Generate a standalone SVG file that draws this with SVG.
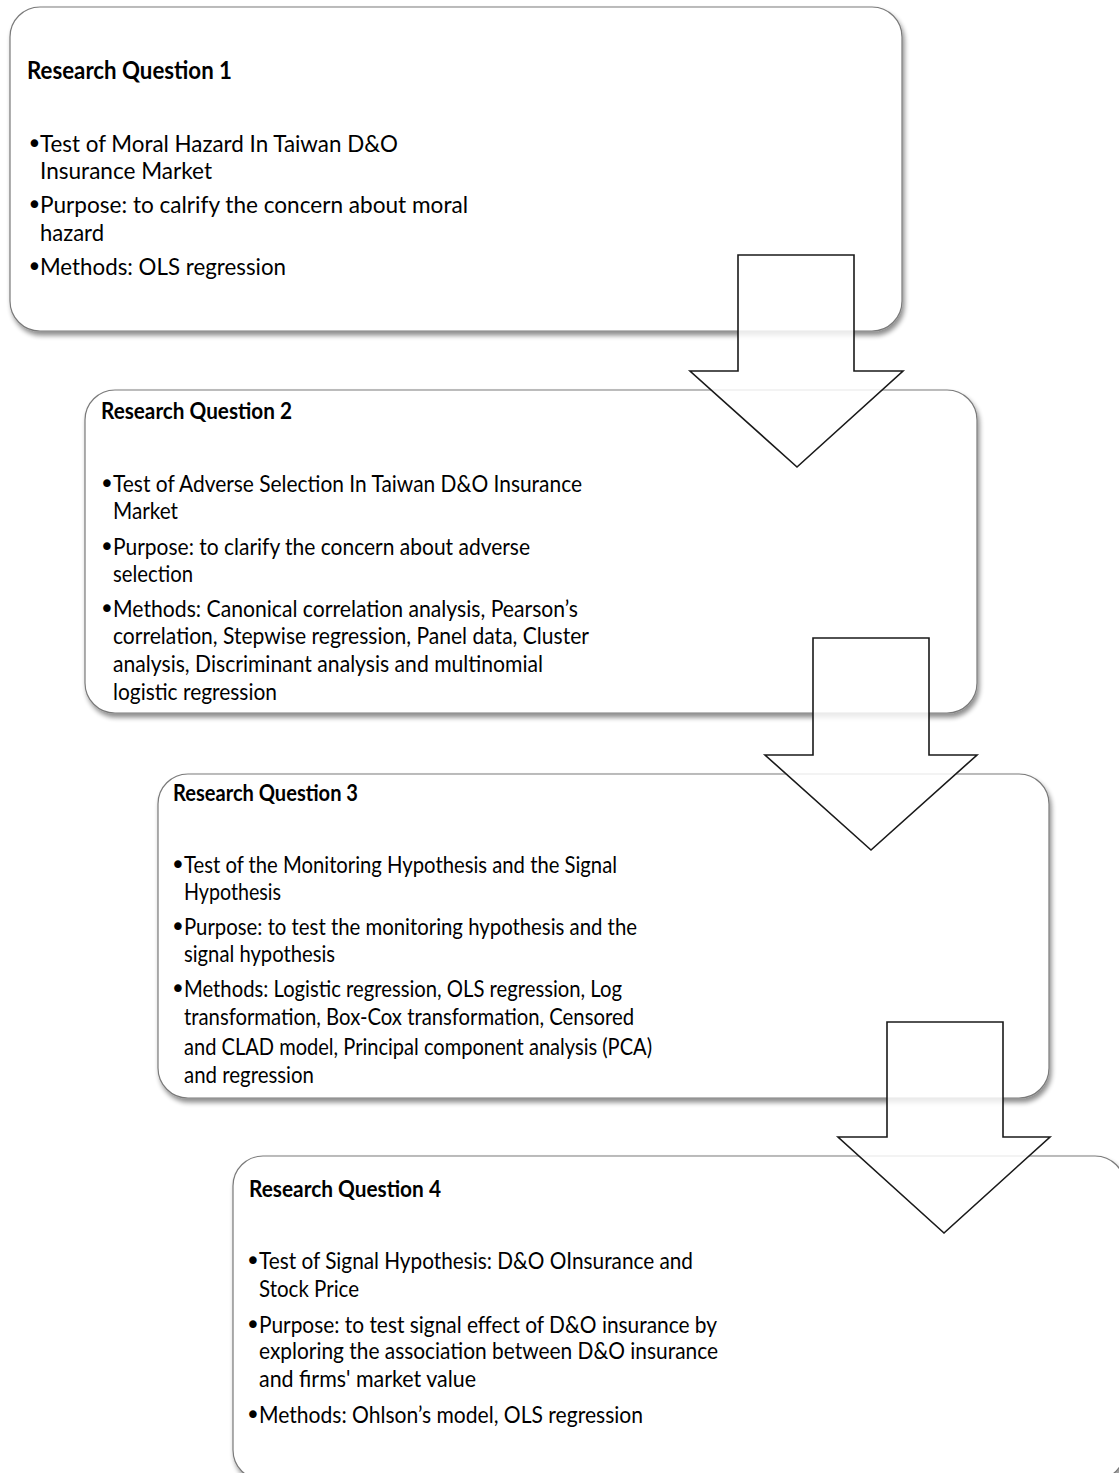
<svg xmlns="http://www.w3.org/2000/svg" width="1119" height="1473" viewBox="0 0 1119 1473">
  <defs>
    <filter id="shadow" x="-5%" y="-5%" width="112%" height="115%">
      <feGaussianBlur in="SourceAlpha" stdDeviation="2.5"/>
      <feOffset dx="2" dy="4" result="blur"/>
      <feComponentTransfer><feFuncA type="linear" slope="0.45"/></feComponentTransfer>
      <feMerge><feMergeNode/><feMergeNode in="SourceGraphic"/></feMerge>
    </filter>
  </defs>
  <style>
    .box { fill: #ffffff; stroke: #7a7a7a; stroke-width: 1.2; filter: url(#shadow); }
    .title { font-family: Lato, "Liberation Sans", sans-serif; font-weight: bold; fill: #000; }
    .body { font-family: Lato, "Liberation Sans", sans-serif; fill: #000; }
    .bul { font-family: "DejaVu Sans", "Liberation Sans", sans-serif; font-size: 26px; fill: #000; text-anchor: middle; }
    .arrow { fill: #ffffff; fill-opacity: 0.82; stroke: #1a1a1a; stroke-width: 1.6; stroke-linejoin: miter; }
    .s24 { font-size: 24px; }
    .s22 { font-size: 22.5px; }
  </style>

  <g id="rq1">
    <rect class="box" x="10" y="7" width="892" height="324" rx="30" ry="30"/>
    <text class="title s24" x="27" y="79" textLength="205" lengthAdjust="spacingAndGlyphs">Research Question 1</text>
    <text class="bul" x="34.5" y="153">•</text>
    <text class="body s24" x="40" y="152" textLength="358" lengthAdjust="spacingAndGlyphs">Test of Moral Hazard In Taiwan D&amp;O</text>
    <text class="body s24" x="40" y="179" textLength="172" lengthAdjust="spacingAndGlyphs">Insurance Market</text>
    <text class="bul" x="34.5" y="214">•</text>
    <text class="body s24" x="40" y="213" textLength="428" lengthAdjust="spacingAndGlyphs">Purpose: to calrify the concern about moral</text>
    <text class="body s24" x="40" y="241" textLength="64" lengthAdjust="spacingAndGlyphs">hazard</text>
    <text class="bul" x="34.5" y="276">•</text>
    <text class="body s24" x="40" y="275" textLength="246" lengthAdjust="spacingAndGlyphs">Methods: OLS regression</text>
  </g>

  <g id="rq2">
    <rect class="box" x="85" y="390" width="892" height="323" rx="30" ry="30"/>
    <text class="title s22" x="101" y="419" textLength="191" lengthAdjust="spacingAndGlyphs">Research Question 2</text>
    <text class="bul" x="107" y="493">•</text>
    <text class="body s22" x="113" y="492" textLength="469" lengthAdjust="spacingAndGlyphs">Test of Adverse Selection In Taiwan D&amp;O Insurance</text>
    <text class="body s22" x="113" y="519" textLength="65" lengthAdjust="spacingAndGlyphs">Market</text>
    <text class="bul" x="107" y="556">•</text>
    <text class="body s22" x="113" y="555" textLength="417" lengthAdjust="spacingAndGlyphs">Purpose: to clarify the concern about adverse</text>
    <text class="body s22" x="113" y="582" textLength="80" lengthAdjust="spacingAndGlyphs">selection</text>
    <text class="bul" x="107" y="618">•</text>
    <text class="body s22" x="113" y="617" textLength="465" lengthAdjust="spacingAndGlyphs">Methods: Canonical correlation analysis, Pearson’s</text>
    <text class="body s22" x="113" y="644" textLength="476" lengthAdjust="spacingAndGlyphs">correlation, Stepwise regression, Panel data, Cluster</text>
    <text class="body s22" x="113" y="672" textLength="430" lengthAdjust="spacingAndGlyphs">analysis, Discriminant analysis and multinomial</text>
    <text class="body s22" x="113" y="700" textLength="164" lengthAdjust="spacingAndGlyphs">logistic regression</text>
  </g>

  <g id="rq3">
    <rect class="box" x="158" y="774" width="891" height="324" rx="30" ry="30"/>
    <text class="title s22" x="173" y="801" textLength="185" lengthAdjust="spacingAndGlyphs">Research Question 3</text>
    <text class="bul" x="178" y="874">•</text>
    <text class="body s22" x="184" y="873" textLength="433" lengthAdjust="spacingAndGlyphs">Test of the Monitoring Hypothesis and the Signal</text>
    <text class="body s22" x="184" y="900" textLength="97" lengthAdjust="spacingAndGlyphs">Hypothesis</text>
    <text class="bul" x="178" y="936">•</text>
    <text class="body s22" x="184" y="935" textLength="453" lengthAdjust="spacingAndGlyphs">Purpose: to test the monitoring hypothesis and the</text>
    <text class="body s22" x="184" y="962" textLength="151" lengthAdjust="spacingAndGlyphs">signal hypothesis</text>
    <text class="bul" x="178" y="998">•</text>
    <text class="body s22" x="184" y="997" textLength="438" lengthAdjust="spacingAndGlyphs">Methods: Logistic regression, OLS regression, Log</text>
    <text class="body s22" x="184" y="1025" textLength="450" lengthAdjust="spacingAndGlyphs">transformation, Box-Cox transformation, Censored</text>
    <text class="body s22" x="184" y="1055" textLength="468" lengthAdjust="spacingAndGlyphs">and CLAD model, Principal component analysis (PCA)</text>
    <text class="body s22" x="184" y="1083" textLength="130" lengthAdjust="spacingAndGlyphs">and regression</text>
  </g>

  <g id="rq4">
    <rect class="box" x="233" y="1156" width="892" height="324" rx="30" ry="30"/>
    <text class="title s22" x="249" y="1197" textLength="192" lengthAdjust="spacingAndGlyphs">Research Question 4</text>
    <text class="bul" x="253" y="1270">•</text>
    <text class="body s22" x="259" y="1269" textLength="434" lengthAdjust="spacingAndGlyphs">Test of Signal Hypothesis: D&amp;O OInsurance and</text>
    <text class="body s22" x="259" y="1297" textLength="100" lengthAdjust="spacingAndGlyphs">Stock Price</text>
    <text class="bul" x="253" y="1334">•</text>
    <text class="body s22" x="259" y="1333" textLength="458" lengthAdjust="spacingAndGlyphs">Purpose: to test signal effect of D&amp;O insurance by</text>
    <text class="body s22" x="259" y="1359" textLength="459" lengthAdjust="spacingAndGlyphs">exploring the association between D&amp;O insurance</text>
    <text class="body s22" x="259" y="1387" textLength="217" lengthAdjust="spacingAndGlyphs">and firms' market value</text>
    <text class="bul" x="253" y="1424">•</text>
    <text class="body s22" x="259" y="1423" textLength="384" lengthAdjust="spacingAndGlyphs">Methods: Ohlson’s model, OLS regression</text>
  </g>

  <!-- block arrows linking each question to the next -->
  <g id="connectors">
    <polygon class="arrow" points="738,255 854,255 854,371 903,371 797,467 690,371 738,371"/>
    <polygon class="arrow" points="813,638 929,638 929,755 977,755 871,850 765,755 813,755"/>
    <polygon class="arrow" points="887,1022 1003,1022 1003,1137 1050,1137 944,1233 838,1137 887,1137"/>
  </g>
</svg>
